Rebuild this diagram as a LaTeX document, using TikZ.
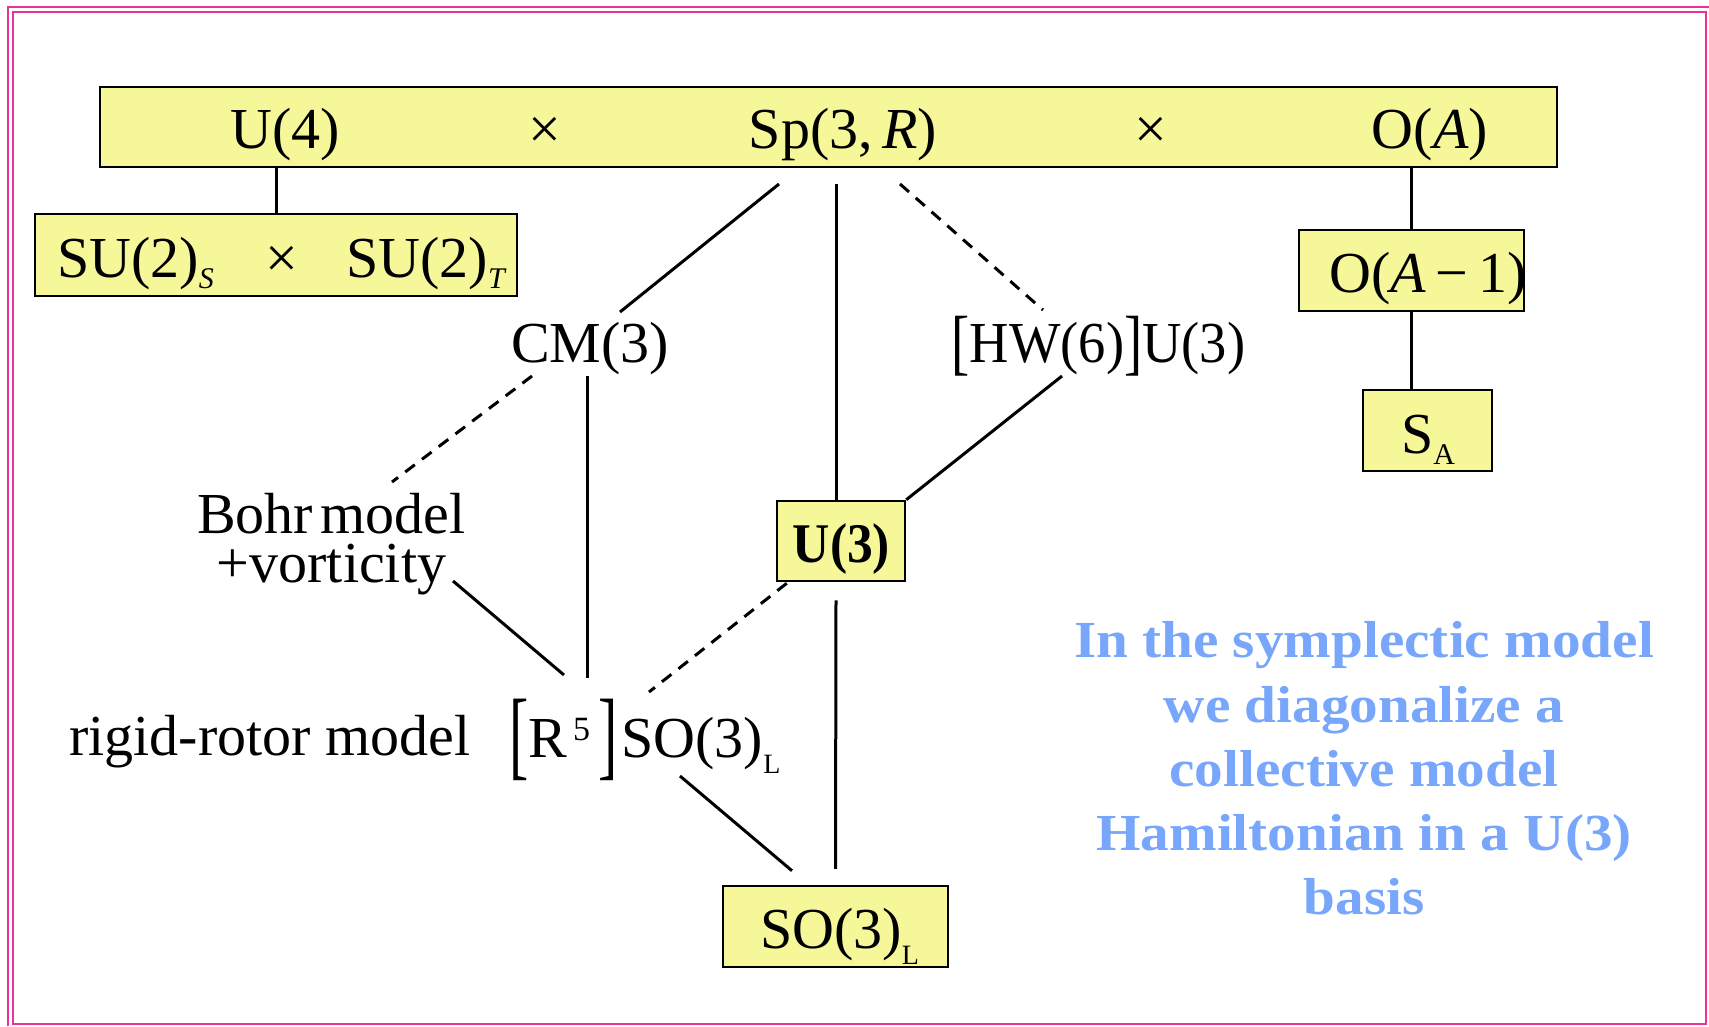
\documentclass[tikz,border=0pt]{standalone}
\usepackage{fontspec}
\setmainfont{Liberation Serif}
\usepackage{graphicx}
\definecolor{boxyellow}{RGB}{245,247,152}
\definecolor{bluetxt}{RGB}{120,166,250}
\definecolor{pinkc}{RGB}{232,52,150}
\newcommand\mysub[2][11pt]{\raisebox{-#1}{\fontsize{30}{30}\selectfont #2}}
\newcommand\bigbrk[1]{\raisebox{-10pt}{\scalebox{1}[1.7]{#1}}}
\newcommand\medbrk[1]{\raisebox{-4pt}{\scalebox{1}[1.25]{#1}}}
\begin{document}
\begin{tikzpicture}[x=1pt,y=-1pt,
  ybox/.style={draw=black,fill=boxyellow,line width=2.5pt,inner sep=0pt},
  lbl/.style={inner sep=0pt,anchor=base,font=\fontsize{58}{60}\selectfont},
  conn/.style={line width=3pt},
  dconn/.style={line width=3pt,dash pattern=on 12pt off 9pt},
  bluetext/.style={inner sep=0pt,anchor=base,text=bluetxt,font=\bfseries\fontsize{52}{60}\selectfont}]
\useasboundingbox (0,0) rectangle (1709,1026);
% frame
\draw[pinkc,line width=2pt] (8,1026) -- (8,7) -- (1709,7);
\draw[pinkc,line width=2pt] (13,12) rectangle (1706,1024);
% boxes
\node[ybox,minimum width=1457pt,minimum height=80pt] (top) at (828.5,127) {};
\node[ybox,minimum width=482pt,minimum height=82pt] (su) at (276,255) {};
\node[ybox,minimum width=225pt,minimum height=81pt] (oam1) at (1411.5,270.5) {};
\node[ybox,minimum width=129pt,minimum height=81pt] (sa) at (1427.5,430.5) {};
\node[ybox,minimum width=128pt,minimum height=80pt] (u3box) at (841,541) {};
\node[ybox,minimum width=225pt,minimum height=81pt] (so3box) at (835.5,926.5) {};
% top row texts
\node[lbl] (u4) at (285.5,148) {U(4)};
\node[lbl] (x1) at (545,148) {×};
\node[lbl] (sp) at (843,148) {Sp(3,\,\textit{R})};
\node[lbl] (x2) at (1151,148) {×};
\node[lbl] (oa) at (1430,148) {O(\textit{A})};
% SU box texts
\node[lbl] (su1) at (135.5,277) {SU(2)\mysub{\textit{S}}};
\node[lbl] (sux) at (282,277) {×};
\node[lbl] (su2) at (426.5,277) {SU(2)\mysub{\textit{T}}};
% right chain texts
\node[lbl] (oam1t) at (1428,292) {O(\textit{A}\,−\,1)};
\node[lbl] (sat) at (1428,453) {S\mysub{A}};
% middle texts
\node[lbl] (cm) at (590,362) {CM(3)};
\node[lbl] (hw) at (1098.5,362) {\scalebox{0.94}[1]{\medbrk{[}HW(6)\medbrk{]}U(3)}};
\node[inner sep=0pt,align=center,font=\fontsize{58}{49}\selectfont] (bohr) at (331.5,544) {Bohr\hspace{-7pt} model\\+vorticity};
\node[lbl,anchor=base west] (rigid) at (69,755) {rigid-rotor model};
\node[lbl] (r5) at (645,757) {\bigbrk{[}R\raisebox{17pt}{\fontsize{34}{34}\selectfont\,5}\hspace{8pt}\bigbrk{]}\hspace{4pt}SO(3)\mysub[16pt]{\fontsize{28}{28}\selectfont L}};
\node[lbl,font=\bfseries\fontsize{56}{60}\selectfont] (u3) at (841.5,562) {\scalebox{0.92}[1]{U(3)}};
\node[lbl] (so3) at (839.5,948) {SO(3)\mysub[16pt]{\fontsize{28}{28}\selectfont L}};
% blue note
\node[bluetext] (n1) at (1364,657) {\scalebox{1.1}[1]{In the symplectic model}};
\node[bluetext] (n2) at (1364,722) {\scalebox{1.1}[1]{we diagonalize a}};
\node[bluetext] (n3) at (1364,786) {\scalebox{1.1}[1]{collective model}};
\node[bluetext] (n4) at (1364,850) {\scalebox{1.1}[1]{Hamiltonian in a U(3)}};
\node[bluetext] (n5) at (1364,914) {\scalebox{1.1}[1]{basis}};
% connectors
\draw[conn] (su.north |- top.south) -- (su.north);
\draw[conn] (oam1.north |- top.south) -- (oam1.north);
\draw[conn] (oam1.south) -- (oam1.south |- sa.north);
\draw[conn] ([shift={(-64,36)}]sp.base) -- ([shift={(30,-50)}]cm.base);
\draw[conn] ([shift={(-7,36)}]sp.base) -- ([shift={(-5,0)}]u3box.north);
\draw[dconn] ([shift={(57,36)}]sp.base) -- ([shift={(-55.5,-52)}]hw.base);
\draw[dconn] ([shift={(-58,14)}]cm.base) -- ([shift={(60.5,-62)}]bohr.center);
\draw[conn] ([shift={(-3,14)}]cm.base) -- ([shift={(-58,-79)}]r5.base);
\draw[conn] ([shift={(-36.5,14)}]hw.base) -- (u3box.north east);
\draw[conn] ([shift={(121.5,37)}]bohr.center) -- ([shift={(-81,-82)}]r5.base);
\draw[dconn] ([shift={(11,1)}]u3box.south west) -- ([shift={(4,-65)}]r5.base);
\draw[conn] ([shift={(-5,18)}]u3box.south) -- ([shift={(0,-16)}]so3box.north);
\draw[conn] ([shift={(35,19)}]r5.base) -- ([shift={(-43.5,-14)}]so3box.north);
\end{tikzpicture}
\end{document}
